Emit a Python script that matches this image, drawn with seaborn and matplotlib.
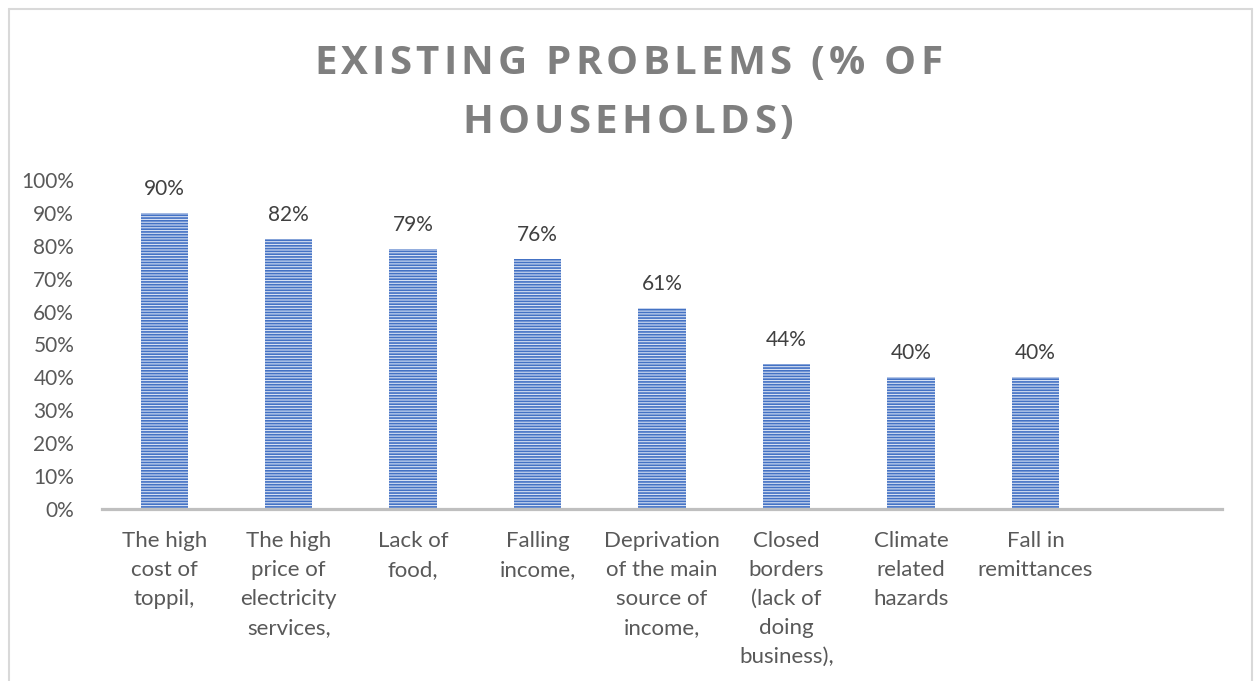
import matplotlib
matplotlib.use("Agg")
import matplotlib.pyplot as plt
import seaborn as sns
import pandas as pd
from matplotlib.lines import Line2D
from matplotlib.font_manager import FontProperties

categories = [
    "The high\ncost of\ntoppil,",
    "The high\nprice of\nelectricity\nservices,",
    "Lack of\nfood,",
    "Falling\nincome,",
    "Deprivation\nof the main\nsource of\nincome,",
    "Closed\nborders\n(lack of\ndoing\nbusiness),",
    "Climate\nrelated\nhazards",
    "Fall in\nremittances",
]
values = [90, 82, 79, 76, 61, 44, 40, 40]
yticks = [0, 10, 20, 30, 40, 50, 60, 70, 80, 90, 100]
title_lines = ["EXISTING PROBLEMS (% OF", "HOUSEHOLDS)"]

sns.set_style("white")
plt.rcParams["font.family"] = ["Lato", "DejaVu Sans"]
plt.rcParams["hatch.linewidth"] = 1.2
plt.rcParams["hatch.color"] = "#4472C4"

df = pd.DataFrame({"category": categories, "value": values})

W, H = 1256, 681
fig = plt.figure(figsize=(W / 100, H / 100), dpi=100)
ax = fig.add_axes([0.0812, 0.2526, 0.973 - 0.0812, 0.7357 - 0.2526])

sns.barplot(data=df, x="category", y="value", ax=ax, order=categories,
            color="#D6E0F3", width=0.38, saturation=1, linewidth=0,
            edgecolor="#4472C4")
for p in ax.patches:
    p.set_hatch("------")
    p.set_edgecolor("#4472C4")
    p.set_linewidth(0)

ax.set_xlim(-0.5, 8.5)
ax.set_ylim(0, 100)
ax.set_yticks(yticks)
ax.set_yticklabels([f"{v}%" for v in yticks], fontsize=15, color="#595959")
ax.tick_params(axis="y", length=0, pad=20)
ax.tick_params(axis="x", length=0, pad=16, labelsize=16, labelcolor="#595959")
ax.set_xticks(range(len(categories)))
ax.set_xticklabels(categories, linespacing=1.56, va="top", ha="center")
ax.set_xlabel("")
ax.set_ylabel("")

for s in ["top", "right", "left"]:
    ax.spines[s].set_visible(False)
ax.spines["bottom"].set_color("#BFBFBF")
ax.spines["bottom"].set_linewidth(2.3)

for c in ax.containers:
    ax.bar_label(c, labels=[f"{v}%" for v in values], padding=10,
                 fontsize=15, color="#404040")

# letter-spaced title
renderer = fig.canvas.get_renderer()
tprop = FontProperties(family="Open Sans", weight="bold", size=29)
def char_widths(s):
    return [renderer.get_text_width_height_descent(ch, tprop, ismath=False)[0]
            for ch in s]

w1 = char_widths(title_lines[0])
target1 = 628.0
spacing = (target1 - sum(w1)) / (len(title_lines[0]) - 1)
baselines = [74, 133]
for line, base in zip(title_lines, baselines):
    ws = char_widths(line)
    total = sum(ws) + spacing * (len(line) - 1)
    x = W / 2 - total / 2
    for ch, w in zip(line, ws):
        fig.text(x / W, 1 - base / H, ch, fontproperties=tprop,
                 color="#7F7F7F", ha="left", va="baseline")
        x += w + spacing

# chart frame
frame_kw = dict(color="#D9D9D9", linewidth=1.5, transform=fig.transFigure)
x0, x1, y1 = 8.5 / W, 1252 / W, 1 - 8.5 / H
fig.add_artist(Line2D([x0, x0], [0, y1], **frame_kw))
fig.add_artist(Line2D([x1, x1], [0, y1], **frame_kw))
fig.add_artist(Line2D([x0, x1], [y1, y1], **frame_kw))

fig.savefig("out.png", dpi=100)
